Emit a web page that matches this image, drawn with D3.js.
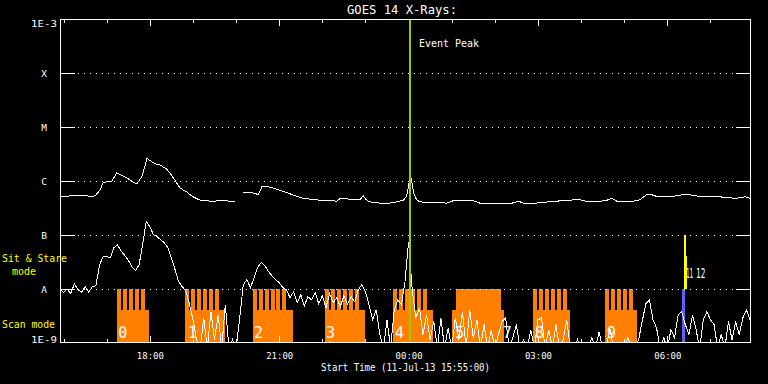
<!DOCTYPE html>
<html><head><meta charset="utf-8">
<script src="https://cdn.jsdelivr.net/npm/d3@7/dist/d3.min.js"></script>
<style>
body{margin:0;background:#000;}
svg{display:block;background:#000;}
text{font-family:"DejaVu Sans Mono","Liberation Mono",monospace;}
</style>
</head><body>
<svg id="c" width="768" height="384"></svg>
<script>
// ---------------- data ----------------
const title = "GOES 14 X-Rays:";
const xAxisTitle = "Start Time (11-Jul-13 15:55:00)";
const rangeStart = "15:55", rangeEnd = "07:55";
const yTickValues = [1e-9, 1e-8, 1e-7, 1e-6, 1e-5, 1e-4, 1e-3];
const yTickLabels = ["1E-9", "A", "B", "C", "M", "X", "1E-3"];
const xTickTimes = ["18:00", "21:00", "00:00", "03:00", "06:00"];

// long channel (1-8 A)  time / flux (null = data gap)
const longTimes = ["15:56","16:09","16:23","16:37","16:44","16:51","16:55","17:02","17:07","17:14",
  "17:18","17:28","17:37","17:42","17:49","17:53","17:56","18:00","18:07","18:14",
  "18:23","18:28","18:35","18:42","18:51","19:00","19:10","19:28","19:42","19:47",
  "19:59","20:05","20:10","20:24","20:31","20:36","20:43","20:52","21:06","21:15",
  "21:24","21:33","21:43","21:57","22:11","22:20","22:25","22:34","22:38","22:52",
  "22:57","23:01","23:06","23:20","23:34","23:43","23:53","23:57","00:00","00:02",
  "00:04","00:07","00:11","00:16","00:30","00:53","01:02","01:30","01:39","01:58",
  "02:21","02:33","02:40","02:58","03:21","03:45","03:54","04:08","04:22","04:36",
  "04:43","04:50","05:08","05:22","05:31","05:36","05:45","06:08","06:22","06:27",
  "06:36","06:50","07:13","07:23","07:36","07:48","07:55"];
const longFlux = [5.1e-7,5.3e-7,5.5e-7,5.2e-7,5.3e-7,6.9e-7,9.4e-7,9.7e-7,9.9e-7,1.41e-6,
  1.32e-6,1.14e-6,9.5e-7,8.8e-7,1.22e-6,1.84e-6,2.62e-6,2.41e-6,2.09e-6,2.0e-6,
  1.67e-6,1.41e-6,1.03e-6,7.4e-7,6.3e-7,5.1e-7,4.4e-7,4.2e-7,4.4e-7,4.3e-7,
  4.1e-7,null,6.2e-7,6.0e-7,5.6e-7,7.9e-7,7.9e-7,7.4e-7,6.4e-7,5.8e-7,
  5.2e-7,4.8e-7,4.6e-7,4.4e-7,4.4e-7,4.2e-7,4.8e-7,4.8e-7,4.5e-7,4.5e-7,
  5.3e-7,4.5e-7,4.1e-7,3.9e-7,3.9e-7,4.1e-7,4.4e-7,5.2e-7,7.9e-7,1.36e-6,
  1.06e-6,6.0e-7,4.5e-7,4.1e-7,4.0e-7,3.9e-7,4.3e-7,4.3e-7,3.9e-7,3.75e-7,
  3.8e-7,4.2e-7,3.9e-7,3.9e-7,4.2e-7,4.4e-7,4.6e-7,4.2e-7,4.1e-7,4.4e-7,
  4.8e-7,4.2e-7,4.1e-7,4.5e-7,5.6e-7,5.7e-7,5.2e-7,5.2e-7,5.6e-7,5.7e-7,
  5.4e-7,5.1e-7,5.1e-7,4.9e-7,4.8e-7,5.1e-7,4.8e-7];

// short channel (0.5-4 A), one reading every 5 minutes from 15:55
const shortStepMin = 5;
const shortFlux = [9.7e-9,8.7e-9,1.0e-8,8.2e-9,1.25e-8,9.7e-9,8.7e-9,1.1e-8,8.7e-9,1.1e-8,
 1.15e-8,2.8e-8,4.0e-8,4.0e-8,3.8e-8,5.8e-8,6.6e-8,5.0e-8,4.2e-8,3.4e-8,
 2.6e-8,2.2e-8,2.8e-8,6.6e-8,1.8e-7,1.43e-7,1.01e-7,9.3e-8,8.2e-8,7.2e-8,
 5.8e-8,3.8e-8,2.3e-8,1.37e-8,1.1e-8,9.3e-9,5.3e-9,2.7e-9,1.15e-9,8e-10,
 2.9e-9,8e-10,3.8e-9,1.15e-9,3.3e-9,8e-10,5.1e-9,8e-10,1.15e-9,8e-10,
 2.9e-9,1.2e-8,1.49e-8,1.06e-8,1.6e-8,2.5e-8,3.1e-8,2.7e-8,2.1e-8,1.76e-8,
 1.49e-8,1.31e-8,1.06e-8,9.7e-9,6.9e-9,8.9e-9,5.6e-9,7.8e-9,4.9e-9,7.2e-9,
 6.3e-9,8.6e-9,5.3e-9,7.5e-9,4.5e-9,8.2e-9,5.6e-9,6.9e-9,4.7e-9,7.5e-9,
 5.3e-9,7.2e-9,5.8e-9,9.7e-9,1.2e-8,8.9e-9,5.1e-9,2.7e-9,4.1e-9,1.43e-9,
 8e-10,2.7e-9,8e-10,4.1e-9,6.3e-9,5.1e-9,1.37e-8,7.5e-8,9.7e-9,2.9e-9,
 4.5e-9,1.43e-9,3.3e-9,1.15e-9,2.5e-9,8e-10,2.9e-9,8e-10,1.9e-9,8e-10,
 2.9e-9,1.15e-9,3.8e-9,8e-10,4.1e-9,1.25e-9,2.7e-9,8e-10,2.2e-9,8e-10,
 1.76e-9,8e-10,1.43e-9,2.5e-9,2.9e-9,8e-10,1.25e-9,2.2e-9,8e-10,1.15e-9,
 8e-10,1.76e-9,8e-10,2.7e-9,2.9e-9,8e-10,1.76e-9,8e-10,2.2e-9,8e-10,
 1.15e-9,2.7e-9,8e-10,8e-10,1.15e-9,8e-10,8e-10,8e-10,1.25e-9,8e-10,
 1.6e-9,8e-10,8e-10,1.9e-9,8e-10,8e-10,8e-10,8e-10,1.25e-9,8e-10,
 8e-10,1.15e-9,2.5e-9,5.3e-9,6.3e-9,2.7e-9,1.9e-9,8e-10,1.25e-9,8e-10,
 1.76e-9,1.25e-9,3.3e-9,3.8e-9,2.2e-9,1.43e-9,3.3e-9,1.76e-9,8e-10,2.7e-9,
 3.8e-9,2.7e-9,2.2e-9,8e-10,1.43e-9,8e-10,2.5e-9,1.15e-9,2.5e-9,1.43e-9,
 2.9e-9,4.1e-9,2.7e-9];

// scan mode blocks
const scanStart = ["17:14","18:49","20:23","22:04","23:38","01:01","02:53","04:33"];
const scanEnd   = ["17:59","19:45","21:19","22:59","00:34","02:13","03:45","05:18"];
const combStart = ["17:14","18:49","20:23","22:04","23:38","01:06","02:53","04:33"];
const combEnd   = ["17:53","19:36","21:10","22:51","00:25","02:09","03:40","05:12"];
const combTeeth = [5, 6, 6, 6, 6, 0, 6, 5];   // 0 = solid
const scanLabels = ["0","1","2","3","4","5","7","8","9"];
const scanLabelTimes = ["17:16","18:53","20:25","22:05","23:41","01:05","02:11","02:56","04:36"];

// sit & stare
const stareStart = ["06:23","06:25"];
const stareEnd   = ["06:26","06:28"];
const stareTop   = [1e-7, 4e-8];
const stareLabels = ["11","12"];
const stareLabelTimes = ["06:26","06:40"];
const blueStart = "06:20", blueEnd = "06:24";

const eventPeakTime = "00:01";

// ---------------- drawing ----------------
const parseT = s => { const [h,m] = s.split(":").map(Number); return new Date(2013, 6, h >= 15 ? 11 : 12, h, m); };
const x = d3.scaleTime().domain([parseT(rangeStart), parseT(rangeEnd)]).range([60, 750]);
const y = d3.scaleLog().domain([1e-9, 1e-3]).range([343, 19]);
const L = 60, R = 750, T = 19, B = 342;
const px = v => Math.round(x(v));
const svg = d3.select("#c");

svg.append("defs").append("clipPath").attr("id","plot")
  .append("rect").attr("x", L).attr("y", T).attr("width", R-L+1).attr("height", B-T+1);

// scan blocks
const gScan = svg.append("g").attr("clip-path","url(#plot)").attr("shape-rendering","crispEdges");
const ORANGE = "#ff8000";
const bodyTop = 4e-9, combTop = 1e-8;
scanStart.forEach((s,i) => {
  const x0 = px(parseT(s)), x1 = px(parseT(scanEnd[i]));
  gScan.append("rect").attr("x", x0).attr("y", Math.round(y(bodyTop)))
    .attr("width", x1-x0).attr("height", B - Math.round(y(bodyTop))).attr("fill", ORANGE);
  const c0 = px(parseT(combStart[i])), c1 = px(parseT(combEnd[i]));
  const n = combTeeth[i];
  const ty = Math.round(y(combTop));
  if (n === 0) {
    gScan.append("rect").attr("x", c0).attr("y", ty).attr("width", c1-c0)
      .attr("height", Math.round(y(bodyTop)) - ty).attr("fill", ORANGE);
  } else {
    const gap = 2, w = ((c1-c0) - (n-1)*gap)/n;
    for (let k=0;k<n;k++){
      gScan.append("rect").attr("x", Math.round(c0 + k*(w+gap))).attr("y", ty)
        .attr("width", Math.round(w)).attr("height", Math.round(y(bodyTop)) - ty).attr("fill", ORANGE);
    }
  }
});
// blue & yellow sit-and-stare bars
gScan.append("rect").attr("x", px(parseT(blueStart))).attr("y", Math.round(y(1e-8)))
  .attr("width", px(parseT(blueEnd)) - px(parseT(blueStart))).attr("height", B - Math.round(y(1e-8)))
  .attr("fill", "#6060ff");
stareStart.forEach((s,i) => {
  gScan.append("rect").attr("x", px(parseT(s))).attr("y", Math.round(y(stareTop[i])))
    .attr("width", px(parseT(stareEnd[i])) - px(parseT(s)))
    .attr("height", Math.round(y(1e-8)) - Math.round(y(stareTop[i]))).attr("fill", "#ffff00");
});

// labels
scanLabels.forEach((t,i) => {
  svg.append("text").attr("x", x(parseT(scanLabelTimes[i]))).attr("y", 338)
    .attr("font-size", 15).attr("fill", "#ffffff").text(t);
});
stareLabels.forEach((t,i) => {
  const sx = i === 0 ? 0.42 : 0.55;
  svg.append("text")
    .attr("transform", `translate(${x(parseT(stareLabelTimes[i]))},278) scale(${sx},1)`)
    .attr("font-size", 14).attr("fill", "#ffffff").text(t);
});

// frame, grid, ticks
const gAx = svg.append("g").attr("shape-rendering","crispEdges").attr("stroke","#fff").attr("stroke-width",1);
gAx.append("rect").attr("x", L+0.5).attr("y", T+0.5).attr("width", R-L).attr("height", B-T).attr("fill","none");
yTickValues.slice(1, -1).forEach(v => {
  const yy = Math.round(y(v)) + 0.5;
  gAx.append("line").attr("x1", L).attr("x2", L+15).attr("y1", yy).attr("y2", yy);
  gAx.append("line").attr("x1", R-14).attr("x2", R).attr("y1", yy).attr("y2", yy);
  gAx.append("line").attr("x1", L+18).attr("x2", R-17).attr("y1", yy).attr("y2", yy)
    .attr("stroke-dasharray", "1 5");
});
x.ticks(d3.timeHour.every(1)).forEach(t => {
  const xx = Math.round(x(t)) + 0.5;
  const major = t.getHours() % 3 === 0;
  gAx.append("line").attr("x1", xx).attr("x2", xx).attr("y1", T).attr("y2", T + (major ? 7 : 4));
  gAx.append("line").attr("x1", xx).attr("x2", xx).attr("y1", B + 1).attr("y2", B + 1 - (major ? 7 : 4));
});

// y labels
yTickValues.forEach((v,i) => {
  const lab = yTickLabels[i];
  const t = svg.append("text").attr("fill","#fff").attr("font-size", 9.5).text(lab);
  if (lab.length > 1) {
    t.attr("x", 31).attr("textLength", 26).attr("lengthAdjust","spacingAndGlyphs")
     .attr("y", i === 0 ? 343 : 27);
  } else {
    t.attr("x", 44).attr("text-anchor","middle").attr("y", Math.round(y(v)) + 4);
  }
});
// x labels
xTickTimes.forEach(s => {
  svg.append("text").attr("fill","#fff").attr("font-size", 9.5)
    .attr("x", x(parseT(s)) - 13).attr("y", 358.5)
    .attr("textLength", 27).attr("lengthAdjust","spacingAndGlyphs").text(s);
});
svg.append("text").attr("fill","#fff").attr("font-size", 10)
  .attr("x", 321).attr("y", 371).attr("textLength", 169).attr("lengthAdjust","spacingAndGlyphs").text(xAxisTitle);
svg.append("text").attr("fill","#fff").attr("font-size", 11.5)
  .attr("x", 347).attr("y", 13.5).attr("textLength", 110).attr("lengthAdjust","spacingAndGlyphs").text(title);
svg.append("text").attr("fill","#fff").attr("font-size", 11)
  .attr("x", 419).attr("y", 46.5).attr("textLength", 60).attr("lengthAdjust","spacingAndGlyphs").text("Event Peak");
// mode labels
svg.append("text").attr("fill","#ffff00").attr("font-size", 11).attr("x", 2).attr("y", 262)
  .attr("textLength", 65).attr("lengthAdjust","spacingAndGlyphs").text("Sit & Stare");
svg.append("text").attr("fill","#ffff00").attr("font-size", 10.5).attr("x", 12).attr("y", 275)
  .attr("textLength", 24).attr("lengthAdjust","spacingAndGlyphs").text("mode");
svg.append("text").attr("fill","#ffff00").attr("font-size", 11).attr("x", 2).attr("y", 327.5)
  .attr("textLength", 53).attr("lengthAdjust","spacingAndGlyphs").text("Scan mode");

// curves
const gC = svg.append("g").attr("clip-path","url(#plot)");
const line = d3.line().defined(d => d.f != null).x(d => x(d.t)).y(d => y(d.f));
const longData = longTimes.map((s,i) => ({t: parseT(s), f: longFlux[i]}));
const t0 = parseT(rangeStart);
const shortData = shortFlux.map((f,i) => ({t: d3.timeMinute.offset(t0, i*shortStepMin), f}));
[longData, shortData].forEach(d => {
  gC.append("path").datum(d).attr("d", line).attr("fill","none")
    .attr("stroke","#fff").attr("stroke-width",1).attr("shape-rendering","crispEdges");
});

// event peak line
const ex = Math.round(x(parseT(eventPeakTime)));
svg.append("rect").attr("x", ex).attr("y", T + 1).attr("width", 2).attr("height", B - T - 1)
  .attr("fill", "#99cc00").attr("shape-rendering","crispEdges");
</script>
</body></html>
